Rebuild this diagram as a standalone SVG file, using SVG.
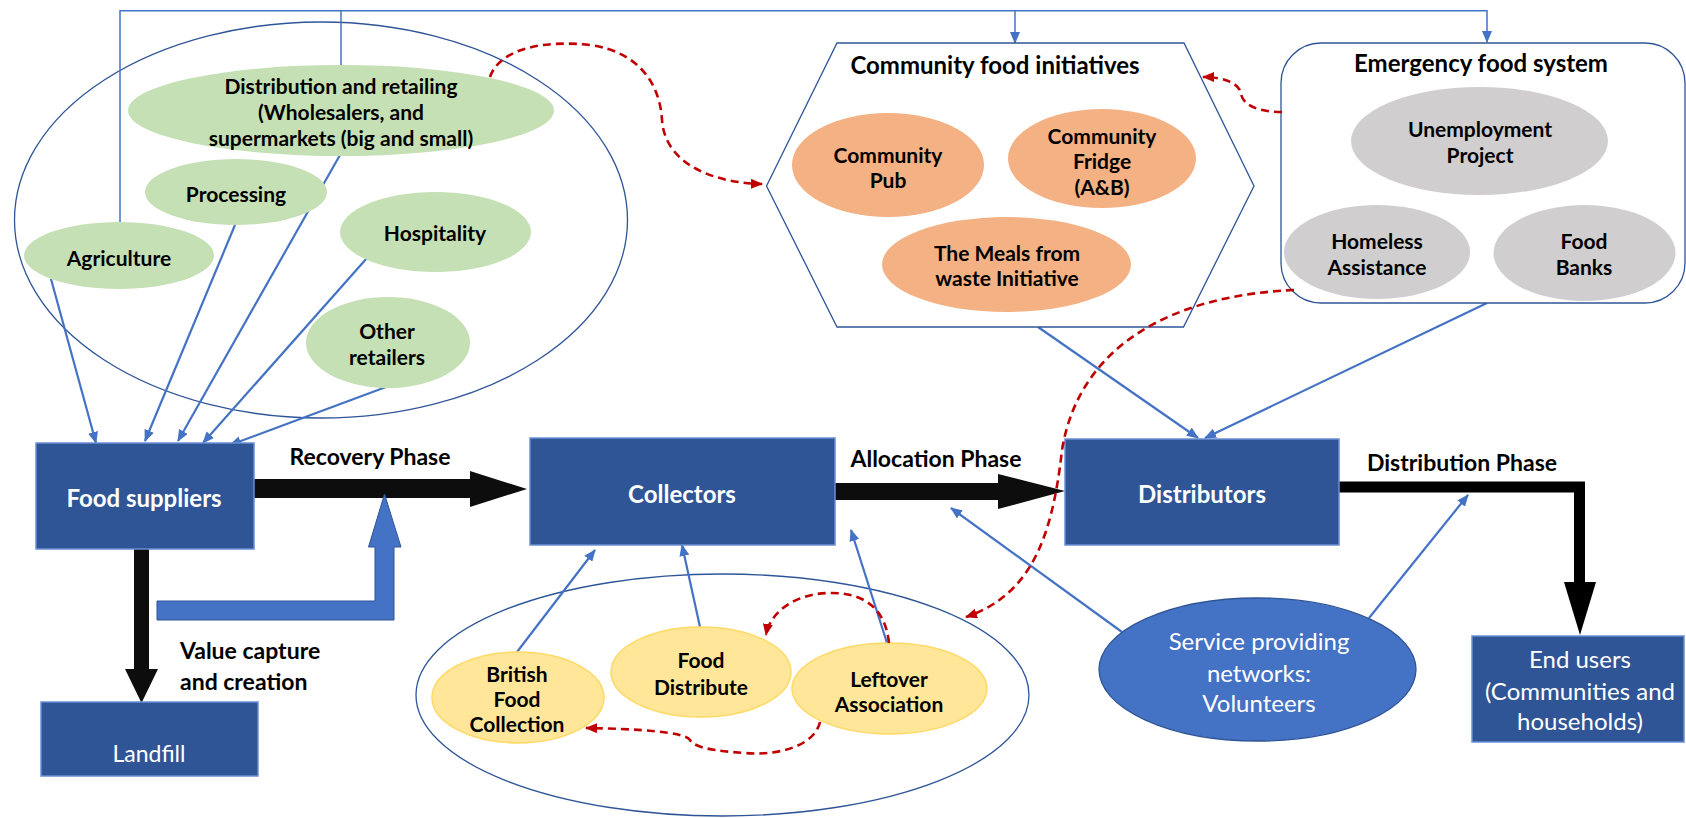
<svg xmlns="http://www.w3.org/2000/svg" width="1686" height="818" viewBox="0 0 1686 818">
<defs>
<marker id="ab" markerUnits="userSpaceOnUse" markerWidth="12" markerHeight="10" refX="11" refY="5" orient="auto"><path d="M0,0 L12,5 L0,10 z" fill="#4472C4"/></marker>
<marker id="ar" markerUnits="userSpaceOnUse" markerWidth="12" markerHeight="10" refX="11" refY="5" orient="auto"><path d="M0,0 L12,5 L0,10 z" fill="#C00000"/></marker>
<style>
.t{font-family:Lato,"Liberation Sans",sans-serif;text-anchor:middle;dominant-baseline:central}
.b{font-weight:bold;fill:#000}
.w{fill:#fff}
.e{font-size:21px}
.L{font-size:24px}
.box{fill:#2F5597;stroke:#6A8FD3;stroke-width:1.5}
.grp{fill:none;stroke:#2F5597;stroke-width:1.3}
.bl{fill:none;stroke:#4472C4;stroke-width:2.2}
.bt{fill:none;stroke:#4472C4;stroke-width:1.5}
.rd{fill:none;stroke:#C00000;stroke-width:2.6;stroke-dasharray:8 5}
.g{fill:#C5E0B4}
.o{fill:#F4B183}
.gr{fill:#D0CECE}
.y{fill:#FFE699;stroke:#FFD966;stroke-width:1.5}
</style>
</defs>
<rect width="1686" height="818" fill="#fff"/>

<g id="groups">
<ellipse class="grp" cx="321" cy="220" rx="306.5" ry="198"/>
<ellipse class="grp" cx="722.5" cy="695" rx="306.5" ry="121"/>
</g>

<g id="connectors">
<path class="bt" d="M120 222 V10.7 H1487 V42" marker-end="url(#ab)"/>
<path class="bt" d="M341 65 V10.7"/>
<path class="bt" d="M1015 10.7 V43" marker-end="url(#ab)"/>
<path class="bl" d="M51 279 L96 443" marker-end="url(#ab)"/>
<path class="bl" d="M235 225 L145 441" marker-end="url(#ab)"/>
<path class="bl" d="M340 155 L178 441" marker-end="url(#ab)"/>
<path class="bl" d="M367 258 L203 443" marker-end="url(#ab)"/>
<path class="bl" d="M386 387 L230 445" marker-end="url(#ab)"/>
<path class="bl" d="M517 652 L595 550" marker-end="url(#ab)"/>
<path class="bl" d="M700 627 L682 545" marker-end="url(#ab)"/>
<path class="bl" d="M887 643 L851 530" marker-end="url(#ab)"/>
<path class="bl" d="M1038 327 L1198 438" marker-end="url(#ab)"/>
<path class="bl" d="M1487 303 L1205 438" marker-end="url(#ab)"/>
<path class="bl" d="M1122 632 L951 508" marker-end="url(#ab)"/>
<path class="bl" d="M1369 618 L1468 495" marker-end="url(#ab)"/>
<polygon points="254,479 470,479 470,471 527,489 470,507 470,498 254,498" fill="#0D0D0D"/>
<polygon points="835,483 998,483 998,474 1065,491 998,509 998,500 835,500" fill="#0D0D0D"/>
<polygon points="134,549 149,549 149,669 158,669 141.5,703 125,669 134,669" fill="#0D0D0D"/>
<polygon points="157,601 375,601 375,547 368.5,547 384.5,494 401,547 394,547 394,620 157,620" fill="#4472C4" stroke="#2F5597" stroke-width="1"/>
<path d="M1339 487 H1579.5 V584" fill="none" stroke="#000" stroke-width="11"/>
<polygon points="1564,582 1596,582 1580,635" fill="#000"/>
</g>

<g id="producers">
<ellipse class="g" cx="341" cy="110.5" rx="213" ry="45.5"/>
<text class="t b e" x="341" y="85">Distribution and retailing</text>
<text class="t b e" x="341" y="111">(Wholesalers, and</text>
<text class="t b e" x="341" y="137">supermarkets (big and small)</text>
</g>
<g id="processing"><ellipse class="g" cx="236" cy="192" rx="91" ry="33"/><text class="t b e" x="236" y="193">Processing</text></g>
<g id="agriculture"><ellipse class="g" cx="119" cy="255.5" rx="95" ry="33.5"/><text class="t b e" x="119" y="257">Agriculture</text></g>
<g id="hospitality"><ellipse class="g" cx="435.5" cy="232" rx="95.5" ry="40"/><text class="t b e" x="435" y="232">Hospitality</text></g>
<g id="other-retailers"><ellipse class="g" cx="388" cy="342.5" rx="82" ry="45.5"/><text class="t b e" x="387" y="330">Other</text><text class="t b e" x="387" y="356">retailers</text></g>

<g id="food-suppliers"><rect class="box" x="36" y="443" width="218" height="106"/><text class="t w L" x="144" y="497" font-weight="bold">Food suppliers</text></g>
<g id="landfill"><rect class="box" x="41" y="702" width="217" height="74"/><text class="t w" x="149" y="753" font-size="23">Landfill</text></g>
<g id="collectors"><rect class="box" x="530" y="438" width="305" height="107"/><text class="t w L" x="682" y="493" font-weight="bold">Collectors</text></g>
<g id="distributors"><rect class="box" x="1065" y="439" width="274" height="106"/><text class="t w L" x="1202" y="493" font-weight="bold">Distributors</text></g>
<g id="end-users"><rect class="box" x="1472" y="636" width="212" height="106"/>
<text class="t w L" x="1580" y="658">End users</text>
<text class="t w L" x="1580" y="690">(Communities and</text>
<text class="t w L" x="1580" y="720">households)</text></g>

<g id="labels">
<text class="t b" x="370" y="456" font-size="23">Recovery Phase</text>
<text class="t b" x="936" y="458" font-size="23">Allocation Phase</text>
<text class="t b" x="1462" y="462" font-size="23">Distribution Phase</text>
<text class="t b" x="180" y="650" font-size="23" style="text-anchor:start">Value capture</text>
<text class="t b" x="180" y="681" font-size="23" style="text-anchor:start">and creation</text>
</g>

<g id="community-food-initiatives">
<polygon points="837,43 1184,43 1254,186 1183.5,327 837,327 766.5,186" fill="#fff" stroke="#2F5597" stroke-width="1.3"/>
<text class="t b L" x="995" y="64">Community food initiatives</text>
<ellipse class="o" cx="888" cy="165" rx="96" ry="52"/>
<text class="t b e" x="888" y="154">Community</text><text class="t b e" x="888" y="179">Pub</text>
<ellipse class="o" cx="1102" cy="158.5" rx="94" ry="49.5"/>
<text class="t b e" x="1102" y="135">Community</text><text class="t b e" x="1102" y="160">Fridge</text><text class="t b e" x="1102" y="186">(A&amp;B)</text>
<ellipse class="o" cx="1006.5" cy="264.5" rx="124.5" ry="47.5"/>
<text class="t b e" x="1007" y="252">The Meals from</text><text class="t b e" x="1007" y="277">waste Initiative</text>
</g>

<g id="emergency-food-system">
<rect x="1281" y="43" width="404" height="260" rx="40" ry="40" fill="#fff" stroke="#2F5597" stroke-width="1.3"/>
<text class="t b L" x="1481" y="62">Emergency food system</text>
<ellipse class="gr" cx="1479.5" cy="141" rx="128.5" ry="54"/>
<text class="t b e" x="1480" y="128">Unemployment</text><text class="t b e" x="1480" y="154">Project</text>
<ellipse class="gr" cx="1377" cy="252" rx="93" ry="47"/>
<text class="t b e" x="1377" y="240">Homeless</text><text class="t b e" x="1377" y="266">Assistance</text>
<ellipse class="gr" cx="1584.5" cy="253" rx="91" ry="48"/>
<text class="t b e" x="1584" y="240">Food</text><text class="t b e" x="1584" y="266">Banks</text>
</g>

<g id="service-providing-networks">
<ellipse cx="1257.5" cy="669.5" rx="158.5" ry="71.5" fill="#4472C4" stroke="#2F5597" stroke-width="1.3"/>
<text class="t w L" x="1259" y="640">Service providing</text>
<text class="t w L" x="1259" y="672">networks:</text>
<text class="t w L" x="1259" y="702">Volunteers</text>
</g>

<g id="british-food-collection"><ellipse class="y" cx="518" cy="697.5" rx="86" ry="45.5"/>
<text class="t b e" x="517" y="673">British</text><text class="t b e" x="517" y="698">Food</text><text class="t b e" x="517" y="723">Collection</text></g>
<g id="food-distribute"><ellipse class="y" cx="701" cy="672" rx="90" ry="45"/>
<text class="t b e" x="701" y="659">Food</text><text class="t b e" x="701" y="686">Distribute</text></g>
<g id="leftover-association"><ellipse class="y" cx="889.5" cy="688.5" rx="97.5" ry="45.5"/>
<text class="t b e" x="889" y="678">Leftover</text><text class="t b e" x="889" y="703">Association</text></g>

<g id="red-connectors">
<path class="rd" d="M490 77 C500 48, 545 40, 590 45 C640 52, 660 85, 662 120 C665 165, 715 183, 762 184" marker-end="url(#ar)"/>
<path class="rd" d="M1282 112 C1258 112, 1242 105, 1241 93 C1238 82, 1222 77, 1203 77" marker-end="url(#ar)"/>
<path class="rd" d="M1294 290 C1180 295, 1080 340, 1062 450 C1052 540, 1030 595, 966 617" marker-end="url(#ar)"/>
<path class="rd" d="M889 643 C885 605, 860 592, 828 593 C795 594, 770 612, 766 635" marker-end="url(#ar)"/>
<path class="rd" d="M820 722 C815 745, 780 756, 745 753 C715 751, 695 748, 690 740 C685 732, 640 729, 586 728" marker-end="url(#ar)"/>
</g>
</svg>
